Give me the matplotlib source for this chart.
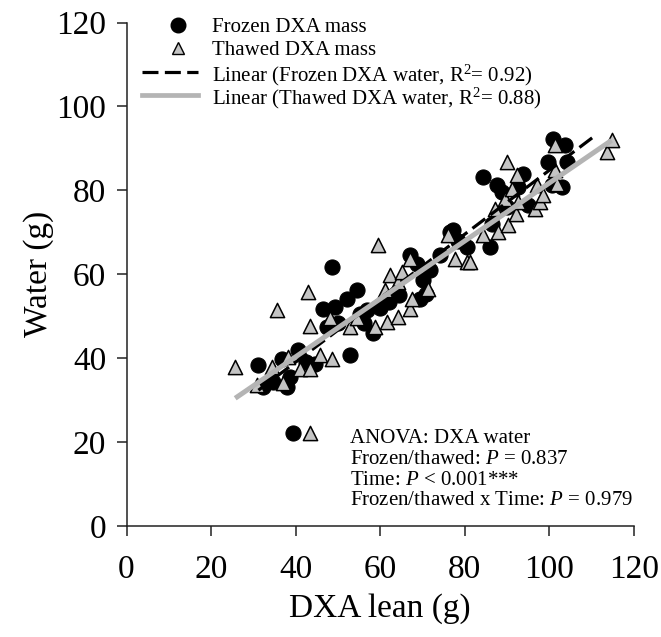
import numpy as np
import matplotlib
matplotlib.use("Agg")
import matplotlib.pyplot as plt
from matplotlib.lines import Line2D

plt.rcParams["font.family"] = ["Liberation Serif", "DejaVu Serif"]
plt.rcParams["mathtext.fontset"] = "custom"
plt.rcParams["mathtext.rm"] = "Liberation Serif"
plt.rcParams["mathtext.it"] = "Liberation Serif:italic"

# DXA lean mass (g) and measured water (g), frozen scans
frozen_lean = [39.4, 31.2, 32.3, 34.7, 36.7, 38.7, 37.9, 40.6, 42.5, 44.5,
               46.5, 48.5, 49.3, 47.3, 50.1, 52.1, 52.8, 54.4, 55.2, 56.8,
               56.2, 58.3, 60.0, 62.0, 64.5, 67.0, 68.6, 69.4, 70.2, 70.9,
               71.7, 74.1, 76.5, 77.3, 78.5, 80.5, 84.4, 85.9, 86.5, 87.5,
               88.7, 90.0, 92.6, 93.8, 95.0, 99.7, 100.5, 100.9, 102.9, 103.7,
               104.1]
frozen_water = [22.1, 38.3, 33.2, 34.4, 39.9, 35.5, 33.2, 41.9, 39.0, 38.5,
                51.8, 61.7, 52.2, 47.5, 48.3, 54.2, 40.7, 56.2, 50.5, 51.4,
                48.3, 45.9, 52.0, 53.5, 55.0, 64.5, 62.5, 54.2, 58.6, 55.4,
                61.0, 64.5, 70.1, 70.5, 68.0, 66.5, 83.2, 66.5, 72.0, 81.2,
                79.6, 76.0, 80.8, 84.0, 76.5, 86.7, 81.2, 92.3, 80.8, 90.7,
                86.7]

# DXA lean mass (g) and measured water (g), thawed scans
thawed_lean = [43.4, 25.7, 30.8, 34.3, 35.5, 37.1, 38.3, 41.0, 43.0, 43.4,
               43.4, 45.7, 48.1, 48.5, 52.8, 54.4, 58.7, 59.5, 61.1, 61.5,
               62.3, 64.3, 64.3, 65.1, 67.0, 67.0, 67.4, 71.3, 76.1, 77.7,
               80.4, 81.2, 84.4, 87.1, 87.9, 89.5, 89.9, 90.3, 91.1, 92.2,
               92.3, 92.6, 96.6, 97.0, 97.8, 98.5, 101.3, 101.3, 101.7, 113.5,
               114.7]
thawed_water = [22.1, 37.9, 33.6, 37.9, 51.4, 34.0, 40.3, 37.5, 55.8, 47.6,
                37.5, 40.7, 49.5, 39.9, 47.5, 49.5, 47.5, 66.9, 56.2, 48.6,
                59.8, 58.2, 49.8, 60.5, 63.7, 51.8, 54.2, 56.6, 69.3, 63.7,
                62.9, 62.9, 69.3, 75.6, 70.1, 78.0, 86.7, 71.7, 80.4, 74.4,
                83.6, 77.2, 75.6, 81.2, 77.2, 78.8, 90.7, 84.8, 81.6, 89.1,
                91.9]

x_ticks = [0, 20, 40, 60, 80, 100, 120]
y_ticks = [0, 20, 40, 60, 80, 100, 120]

frozen_r2 = 0.92
thawed_r2 = 0.88

anova_lines = [
    "ANOVA: DXA water",
    "Frozen/thawed: $P$ = 0.837",
    "Time: $P$ < 0.001***",
    "Frozen/thawed x Time: $P$ = 0.979",
]

W, H = 661, 637
fig = plt.figure(figsize=(W / 100, H / 100), dpi=100)
ax = fig.add_axes([126.5 / W, 1 - 526 / H, (634 - 126.5) / W, (526 - 22.5) / H])

tri_face = "#c4c4c4"
line_gray = "#b4b4b4"
dash = (0, (5, 2))

ax.scatter(frozen_lean, frozen_water, s=118, marker="o", c="black",
           edgecolors="black", linewidths=0.8, zorder=3, clip_on=False)
ax.scatter(thawed_lean, thawed_water, s=105, marker="^", c=tri_face,
           edgecolors="black", linewidths=1.1, zorder=4, clip_on=False)

# least-squares trend lines
fx = np.array(frozen_lean)
fy = np.array(frozen_water)
tx = np.array(thawed_lean)
ty = np.array(thawed_water)
fb, fa = np.polyfit(fx, fy, 1)
tb, ta = np.polyfit(tx, ty, 1)
fxs = np.array([fx.min(), fx.max() + 6])
txs = np.array([tx.min(), tx.max()])
ax.plot(fxs, fa + fb * fxs, color="black", lw=2.3, ls=dash,
        zorder=5, clip_on=False)
ax.plot(txs, ta + tb * txs, color=line_gray, lw=3.6, zorder=6,
        solid_capstyle="butt", clip_on=False)

ax.set_xlim(0, 120)
ax.set_ylim(0, 120)
ax.set_xticks(x_ticks)
ax.set_yticks(y_ticks)
ax.tick_params(direction="out", length=7.5, width=1.1, labelsize=24,
               color="#222222")
ax.tick_params(axis="x", pad=13)
ax.tick_params(axis="y", pad=7)
for side in ("top", "right"):
    ax.spines[side].set_visible(False)
for side in ("left", "bottom"):
    ax.spines[side].set_linewidth(1.1)
    ax.spines[side].set_color("#222222")
ax.set_xlabel("DXA lean (g)", fontsize=24, labelpad=6)
ax.set_ylabel("Water (g)", fontsize=24, labelpad=2)

# key: glyphs and labels laid out in figure pixels
labels = [
    "Frozen DXA mass",
    "Thawed DXA mass",
    f"Linear (Frozen DXA water, R$^{{2}}$= {frozen_r2:.2f})",
    f"Linear (Thawed DXA water, R$^{{2}}$= {thawed_r2:.2f})",
]
row_y = [25, 48, 72, 95]
fx_px = lambda p: p / W
fy_px = lambda p: 1 - p / H
fig.add_artist(Line2D([fx_px(178)], [fy_px(row_y[0])], marker="o", ls="none",
                      color="black", markersize=10.5, transform=fig.transFigure))
fig.add_artist(Line2D([fx_px(178)], [fy_px(row_y[1])], marker="^", ls="none",
                      markerfacecolor=tri_face, markeredgecolor="black",
                      markeredgewidth=1.0, markersize=8.5,
                      transform=fig.transFigure))
fig.add_artist(Line2D([fx_px(142), fx_px(198)], [fy_px(row_y[2])] * 2,
                      color="black", lw=2.3, ls=dash, transform=fig.transFigure))
fig.add_artist(Line2D([fx_px(142), fx_px(198)], [fy_px(row_y[3])] * 2,
                      color=line_gray, lw=3.4, transform=fig.transFigure))
for lab, ry in zip(labels, row_y):
    fig.text(fx_px(212), fy_px(ry), lab, fontsize=15, ha="left",
             va="center_baseline")

fig.text(350 / W, 1 - 429 / H, "\n".join(anova_lines), fontsize=15,
         va="top", ha="left", linespacing=1.13)

fig.savefig("out.png", dpi=100)
